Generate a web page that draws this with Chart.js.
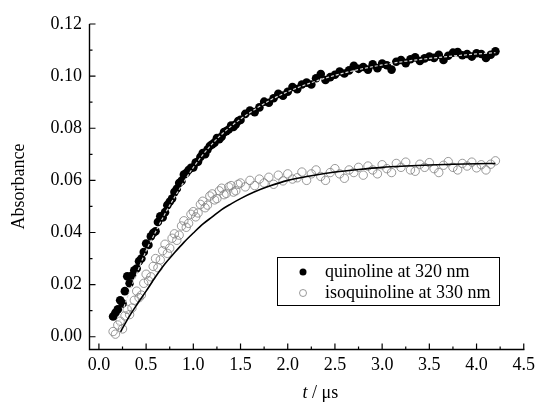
<!DOCTYPE html>
<html><head><meta charset="utf-8">
<script src="https://cdn.jsdelivr.net/npm/chart.js@4.4.1/dist/chart.umd.min.js"></script>
<style>html,body{margin:0;padding:0;background:#fff}canvas{display:block}</style>
</head><body><canvas id="c" width="540" height="404"></canvas>
<script>
const time = [0.150,0.175,0.200,0.225,0.250,0.275,0.300,0.325,0.350,0.375,0.400,0.425,0.450,0.475,0.500,0.525,0.550,0.575,0.600,0.625,0.650,0.675,0.700,0.725,0.750,0.775,0.800,0.825,0.850,0.875,0.900,0.925,0.950,0.975,1.000,1.025,1.050,1.075,1.100,1.125,1.150,1.175,1.200,1.225,1.250,1.275,1.300,1.325,1.350,1.375,1.400,1.425,1.450,1.475,
  1.50,1.55,1.60,1.65,1.70,1.75,1.80,1.85,1.90,1.95,2.00,2.05,2.10,2.15,2.20,2.25,2.30,2.35,2.40,2.45,2.50,2.55,2.60,2.65,2.70,2.75,2.80,2.85,2.90,2.95,3.00,3.05,3.10,3.15,3.20,3.25,3.30,3.35,3.40,3.45,3.50,3.55,3.60,3.65,3.70,3.75,3.80,3.85,3.90,3.95,4.00,4.05,4.10,4.15,4.20];
const quinoline = [0.0078,0.0092,0.0105,0.0140,0.0128,0.0175,0.0232,0.0205,0.0235,0.0255,0.0262,0.0290,0.0300,0.0325,0.0358,0.0352,0.0385,0.0398,0.0405,0.0440,0.0462,0.0458,0.0478,0.0505,0.0518,0.0530,0.0555,0.0568,0.0590,0.0598,0.0622,0.0628,0.0640,0.0648,0.0650,0.0668,0.0672,0.0690,0.0705,0.0700,0.0718,0.0732,0.0738,0.0745,0.0762,0.0758,0.0768,0.0785,0.0789,0.0795,0.0810,0.0805,0.0815,0.0828,
  0.0832,0.0855,0.0868,0.0862,0.0880,0.0902,0.0898,0.0915,0.0932,0.0925,0.0940,0.0958,0.0950,0.0968,0.0975,0.0968,0.0992,0.1008,0.0985,0.0996,0.1005,0.1018,0.1010,0.1022,0.1040,0.1028,0.1035,0.1025,0.1045,0.1030,0.1048,0.1042,0.1025,0.1055,0.1062,0.1050,0.1065,0.1072,0.1058,0.1068,0.1075,0.1070,0.1082,0.1062,0.1078,0.1090,0.1092,0.1080,0.1085,0.1075,0.1088,0.1085,0.1070,0.1082,0.1095];
const isoquinoline = [0.0020,0.0010,0.0045,0.0060,0.0030,0.0080,0.0105,0.0085,0.0110,0.0140,0.0175,0.0150,0.0160,0.0205,0.0240,0.0215,0.0230,0.0270,0.0300,0.0265,0.0295,0.0330,0.0355,0.0320,0.0340,0.0378,0.0395,0.0370,0.0390,0.0425,0.0445,0.0420,0.0435,0.0470,0.0480,0.0460,0.0475,0.0508,0.0520,0.0495,0.0505,0.0540,0.0548,0.0525,0.0530,0.0560,0.0570,0.0545,0.0550,0.0575,0.0580,0.0555,0.0560,0.0585,
  0.0590,0.0575,0.0600,0.0580,0.0605,0.0590,0.0612,0.0585,0.0620,0.0598,0.0625,0.0605,0.0610,0.0632,0.0600,0.0625,0.0640,0.0615,0.0600,0.0630,0.0645,0.0625,0.0608,0.0640,0.0630,0.0650,0.0620,0.0655,0.0640,0.0625,0.0660,0.0645,0.0630,0.0665,0.0650,0.0670,0.0640,0.0635,0.0662,0.0650,0.0668,0.0645,0.0630,0.0658,0.0672,0.0650,0.0640,0.0665,0.0655,0.0670,0.0648,0.0660,0.0640,0.0662,0.0675];
const fitQTime = [0.20,0.30,0.40,0.50,0.60,0.70,0.80,0.90,1.00,1.20,1.40,1.60,1.80,2.00,2.25,2.50,2.75,3.00,3.25,3.50,3.75,4.00,4.20];
const fitQ = [0.0040,0.0150,0.0242,0.0330,0.0402,0.0472,0.0535,0.0594,0.0650,0.0740,0.0808,0.0860,0.0905,0.0940,0.0975,0.1003,0.1025,0.1043,0.1057,0.1068,0.1077,0.1085,0.1090];
const fitITime = [0.23,0.30,0.40,0.50,0.60,0.70,0.80,0.90,1.00,1.10,1.20,1.30,1.40,1.50,1.65,1.80,2.00,2.25,2.50,2.75,3.00,3.25,3.50,3.75,4.00,4.20];
const fitI = [0.0019,0.0065,0.0122,0.0175,0.0230,0.0280,0.0322,0.0362,0.0398,0.0432,0.0460,0.0488,0.0510,0.0530,0.0556,0.0577,0.0600,0.0618,0.0632,0.0642,0.0650,0.0655,0.0659,0.0662,0.0664,0.0665];
const xTickValues = [0,0.5,1.0,1.5,2.0,2.5,3.0,3.5,4.0,4.5];
const xTickLabels = ['0.0','0.5','1.0','1.5','2.0','2.5','3.0','3.5','4.0','4.5'];
const yTickValues = [0,0.02,0.04,0.06,0.08,0.10,0.12];
const yTickLabels = ['0.00','0.02','0.04','0.06','0.08','0.10','0.12'];
const seriesNames = ['quinoline at 320 nm','isoquinoline at 330 nm'];
const yTitle = 'Absorbance';

const FONT = '"Liberation Serif", "Times New Roman", serif';
const pts = (xs, ys) => xs.map((x, i) => ({x: x, y: ys[i]}));

const axesPlugin = {
  id: 'axesPlugin',
  afterDraw(chart) {
    const ctx = chart.ctx;
    const xs = chart.scales.x, ys = chart.scales.y;
    const ca = chart.chartArea;
    const x0 = Math.round(xs.getPixelForValue(xs.min)) + 0.5;
    const yb = Math.round(ys.getPixelForValue(ys.min)) + 0.5;
    const xr = xs.getPixelForValue(4.5);
    const yt = ys.getPixelForValue(0.12);
    ctx.save();
    ctx.strokeStyle = '#000';
    ctx.lineWidth = 1.4;
    ctx.beginPath();
    ctx.moveTo(x0, yt); ctx.lineTo(x0, yb); ctx.lineTo(xr + 0.7, yb);
    ctx.stroke();
    ctx.lineWidth = 1.2;
    ctx.beginPath();
    xTickValues.forEach((v, i) => {
      const px = xs.getPixelForValue(v);
      ctx.moveTo(px, yb); ctx.lineTo(px, yb - 6);
      if (i < xTickValues.length - 1) {
        const pm = xs.getPixelForValue((v + xTickValues[i + 1]) / 2);
        ctx.moveTo(pm, yb); ctx.lineTo(pm, yb - 3);
      }
    });
    yTickValues.forEach((v, i) => {
      const py = ys.getPixelForValue(v);
      ctx.moveTo(x0, py); ctx.lineTo(x0 + 6, py);
      if (i < yTickValues.length - 1) {
        const pm = ys.getPixelForValue((v + yTickValues[i + 1]) / 2);
        ctx.moveTo(x0, pm); ctx.lineTo(x0 + 3, pm);
      }
    });
    ctx.stroke();

    // x title: italic t / µs
    ctx.fillStyle = '#000';
    ctx.textBaseline = 'middle';
    const italic = 'italic 18px ' + FONT, normal = '18px ' + FONT;
    ctx.font = italic; const wt = ctx.measureText('t').width;
    ctx.font = normal; const rest = ' / \u03bcs'; const wr = ctx.measureText(rest).width;
    const cx = (ca.left + ca.right) / 2 + 14;
    let sx = cx - (wt + wr) / 2;
    const ty = 393;
    ctx.font = italic; ctx.textAlign = 'left'; ctx.fillText('t', sx, ty);
    ctx.font = normal; ctx.fillText(rest, sx + wt, ty);

    // legend
    const lx = 277.5, ly = 257.5, lw = 222, lh = 48;
    ctx.lineWidth = 1;
    ctx.strokeRect(lx, ly, lw, lh);
    const rows = [272, 293];
    ctx.font = normal;
    chart.data.datasets.filter(d => d.legend).forEach((d, i) => {
      const my = rows[i];
      ctx.beginPath();
      ctx.arc(303, my, 3.5, 0, Math.PI * 2);
      if (d.legendFill) { ctx.fillStyle = d.backgroundColor; ctx.fill(); }
      else { ctx.strokeStyle = d.borderColor; ctx.lineWidth = 0.8; ctx.stroke(); }
      ctx.fillStyle = '#000';
      ctx.fillText(d.label, 325, my);
    });
    ctx.restore();
  }
};

new Chart(document.getElementById('c'), {
  type: 'scatter',
  data: {
    datasets: [
      { label: 'fit q', data: pts(fitQTime, fitQ), showLine: true, pointRadius: 0, borderColor: '#d8d8d8', borderWidth: 1.2, borderDash: [3, 2], cubicInterpolationMode: 'monotone', order: 0 },
      { label: 'fit i', data: pts(fitITime, fitI), showLine: true, pointRadius: 0, borderColor: '#000', borderWidth: 1.6, cubicInterpolationMode: 'monotone', order: 0 },
      { label: seriesNames[0], legend: true, legendFill: true, data: pts(time, quinoline), pointRadius: 4.3, backgroundColor: '#000', borderColor: '#000', borderWidth: 0, order: 1 },
      { label: seriesNames[1], legend: true, legendFill: false, data: pts(time, isoquinoline), pointRadius: 4.2, backgroundColor: 'rgba(0,0,0,0)', borderColor: '#808080', borderWidth: 0.8, order: 2 }
    ]
  },
  options: {
    responsive: false,
    animation: false,
    events: [],
    layout: { padding: { left: 0, right: 12, top: 24, bottom: 0 } },
    plugins: { legend: { display: false }, tooltip: { enabled: false } },
    scales: {
      x: {
        type: 'linear', min: -0.105, max: 4.5,
        afterBuildTicks: s => { s.ticks = xTickValues.map(v => ({value: v})); },
        afterFit: s => { s.height = 55; },
        ticks: { callback: (v, i) => xTickLabels[i], color: '#000', font: { family: FONT, size: 18 }, padding: 5, maxRotation: 0, autoSkip: false },
        grid: { display: false, drawTicks: false },
        border: { display: false }
      },
      y: {
        type: 'linear', min: -0.0047, max: 0.12,
        afterBuildTicks: s => { s.ticks = yTickValues.map(v => ({value: v})); },
        afterFit: s => { s.width = 89; },
        ticks: { callback: (v, i) => yTickLabels[i], color: '#000', font: { family: FONT, size: 18 }, padding: 7, autoSkip: false },
        grid: { display: false, drawTicks: false },
        border: { display: false },
        title: { display: true, text: yTitle, color: '#000', font: { family: FONT, size: 18 }, padding: { top: 8, bottom: 0 } }
      }
    }
  },
  plugins: [axesPlugin]
});
</script>
</body></html>
